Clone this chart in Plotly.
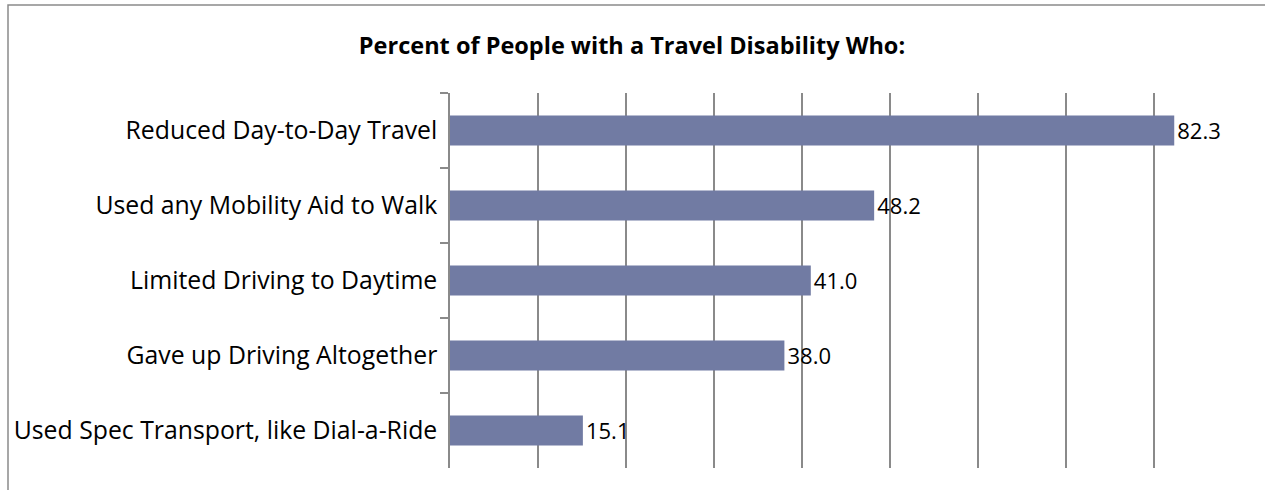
import plotly.graph_objects as go

# Survey results, top to bottom
categories = [
    "Reduced Day-to-Day Travel",
    "Used any Mobility Aid to Walk",
    "Limited Driving to Daytime",
    "Gave up Driving Altogether",
    "Used Spec Transport, like Dial-a-Ride",
]
percents = [82.3, 48.2, 41.0, 38.0, 15.1]

title_text = "Percent of People with a Travel Disability Who:"

FONT = "Open Sans"
BAR_COLOR = "rgb(113,123,163)"
LINE_COLOR = "#8a8a8a"

W, H = 1265, 490
M_L, M_R, M_T, M_B = 450, 23, 93, 22

fig = go.Figure(
    go.Bar(
        x=percents,
        y=categories,
        orientation="h",
        marker=dict(color=BAR_COLOR, line=dict(width=0)),
        text=[f"{v:.1f}" for v in percents],
        textposition="outside",
        textfont=dict(family=FONT, size=25, color="black"),
        cliponaxis=False,
        width=0.4,
    )
)

# outer chart frame (open on the right and bottom)
pw, ph = W - M_L - M_R, H - M_T - M_B
fig.add_shape(
    type="rect", xref="paper", yref="paper",
    x0=(8 - M_L) / pw, x1=(W + 10 - M_L) / pw,
    y0=-(M_B + 10) / ph, y1=(H - M_B - 5) / ph,
    line=dict(color=LINE_COLOR, width=1.5),
    fillcolor="rgba(0,0,0,0)", layer="below",
)

fig.update_layout(
    width=W, height=H,
    margin=dict(l=M_L, r=M_R, t=M_T, b=M_B, pad=0),
    paper_bgcolor="white", plot_bgcolor="white",
    showlegend=False,
    title=dict(
        text=f"<b>{title_text}</b>",
        x=632 / W, xanchor="center",
        y=1 - 46 / H, yanchor="middle",
        font=dict(family=FONT, size=23.5, color="black"),
    ),
    xaxis=dict(
        range=[0, 90], dtick=10, tick0=0,
        showgrid=True, gridcolor=LINE_COLOR, gridwidth=1.5,
        showticklabels=False, ticks="", zeroline=False, showline=False,
    ),
    yaxis=dict(
        categoryorder="array", categoryarray=categories,
        autorange="reversed",
        showline=True, linecolor=LINE_COLOR, linewidth=1.5,
        ticks="outside", tickson="boundaries", ticklen=8,
        tickcolor=LINE_COLOR, tickwidth=1.5,
        showgrid=False, zeroline=False,
        ticklabelstandoff=6,
        tickfont=dict(family=FONT, size=24.8, color="black"),
    ),
)

fig.write_html("out.html")
